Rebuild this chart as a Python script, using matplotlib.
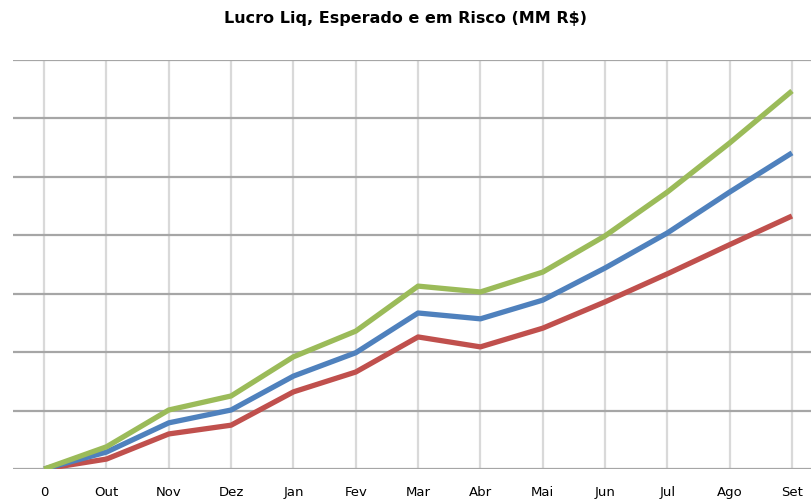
import matplotlib.pyplot as plt
import numpy as np

months = ["0", "Out", "Nov", "Dez", "Jan", "Fev", "Mar", "Abr", "Mai", "Jun", "Jul", "Ago", "Set"]
esperado = [0, 0.29, 0.79, 1.01, 1.59, 1.99, 2.67, 2.57, 2.89, 3.44, 4.04, 4.74, 5.41]
em_risco = [0, 0.17, 0.60, 0.75, 1.32, 1.66, 2.26, 2.09, 2.41, 2.86, 3.34, 3.84, 4.33]
lucro_liq = [0, 0.38, 1.01, 1.25, 1.92, 2.36, 3.13, 3.03, 3.37, 3.99, 4.74, 5.58, 6.47]


def main():
    fig = plt.figure(figsize=(8.11, 4.99), dpi=100)
    ax = fig.add_axes([13 / 811, 30 / 499, 798 / 811, 409 / 499])

    x = np.arange(len(months))
    ax.plot(x, em_risco, color="#c0504d", lw=3.8, solid_capstyle="butt", zorder=3)
    ax.plot(x, esperado, color="#4f81bd", lw=3.8, solid_capstyle="butt", zorder=4)
    ax.plot(x, lucro_liq, color="#9bbb59", lw=3.8, solid_capstyle="butt", zorder=5)

    ax.set_xlim(-0.5, 12.305)
    ax.set_ylim(0, 7)
    ax.set_xticks(x)
    ax.set_xticklabels(months, fontsize=9.5)
    ax.set_yticks(np.arange(0, 8))
    ax.set_yticklabels([])
    ax.tick_params(axis="both", length=0, pad=12)

    for yv in range(0, 8):
        ax.axhline(yv, color="#a6a6a6", lw=1.6, zorder=1)
    for xv in x:
        ax.axvline(xv, color="#d9d9d9", lw=1.6, zorder=0)

    for s in ax.spines.values():
        s.set_visible(False)

    fig.text(0.5, 1 - 18 / 499, "Lucro Liq, Esperado e em Risco (MM R$)",
             ha="center", va="center", fontsize=11.5, fontweight="bold")

    fig.savefig("out.png", dpi=100)


if __name__ == "__main__":
    main()
